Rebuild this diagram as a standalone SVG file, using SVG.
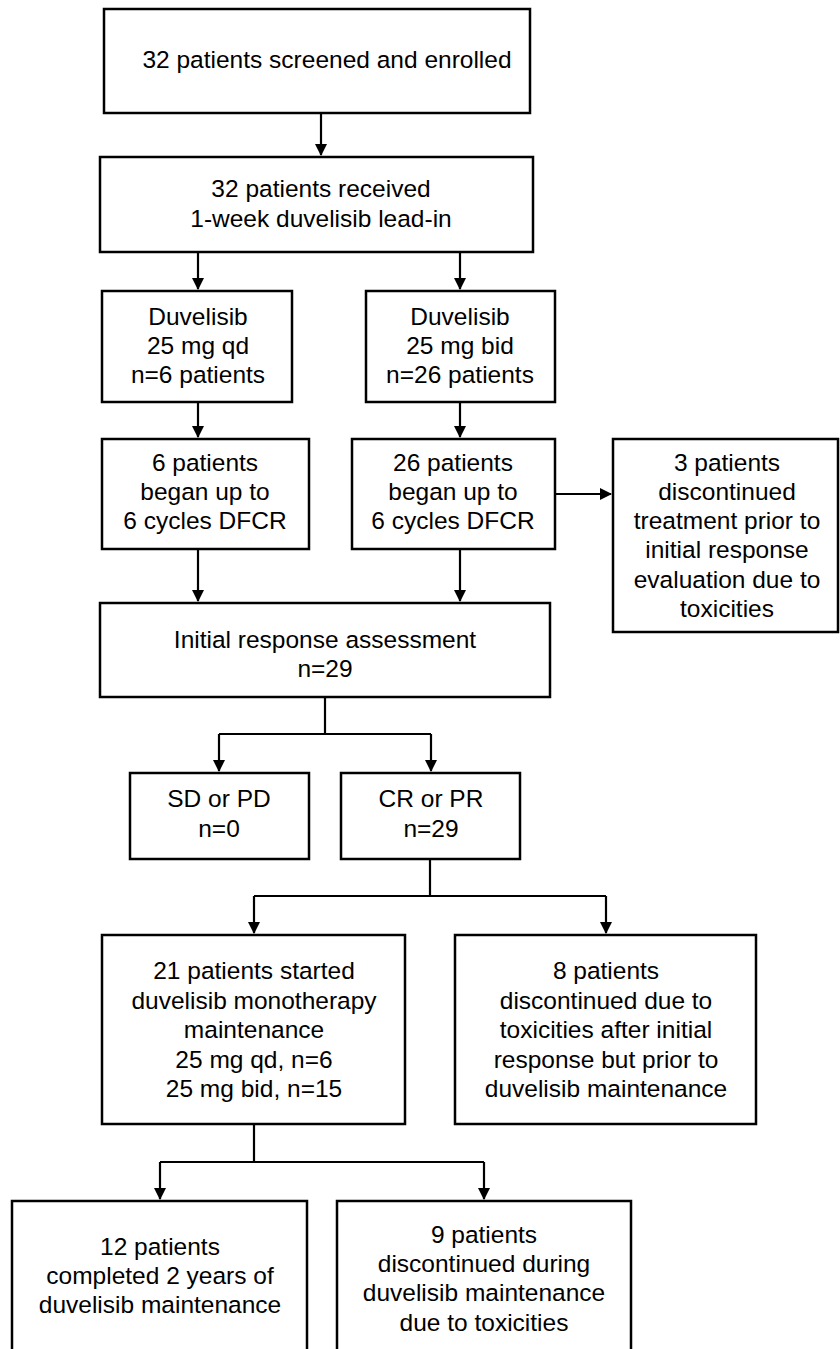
<svg xmlns="http://www.w3.org/2000/svg" width="840" height="1349" viewBox="0 0 840 1349">
<style>
.b{fill:#fff;stroke:#000;stroke-width:2.5}
.c{fill:none;stroke:#000;stroke-width:2.2}
text{font-family:"Liberation Sans",Arial,sans-serif;font-size:24.5px;fill:#000;text-anchor:middle}
</style>
<defs>
<marker id="ah" markerUnits="userSpaceOnUse" markerWidth="12" markerHeight="12" viewBox="0 0 12 12" refX="11" refY="6" orient="auto">
<path d="M0,0 L12,6 L0,12 z" fill="#000"/>
</marker>
</defs>
<g id="connectors">
<path class="c" d="M321,113 V155" marker-end="url(#ah)"/>
<path class="c" d="M198,252 V289" marker-end="url(#ah)"/>
<path class="c" d="M460,252 V289" marker-end="url(#ah)"/>
<path class="c" d="M198,402 V437" marker-end="url(#ah)"/>
<path class="c" d="M460,402 V437" marker-end="url(#ah)"/>
<path class="c" d="M555,494 H611" marker-end="url(#ah)"/>
<path class="c" d="M198,549 V601" marker-end="url(#ah)"/>
<path class="c" d="M460,549 V601" marker-end="url(#ah)"/>
<path class="c" d="M325,697 V734 M219,734 H431"/>
<path class="c" d="M219,734 V771" marker-end="url(#ah)"/>
<path class="c" d="M431,734 V771" marker-end="url(#ah)"/>
<path class="c" d="M430,859 V896 M254,896 H606"/>
<path class="c" d="M254,896 V933" marker-end="url(#ah)"/>
<path class="c" d="M606,896 V933" marker-end="url(#ah)"/>
<path class="c" d="M254,1124 V1162 M160,1162 H484"/>
<path class="c" d="M160,1162 V1199" marker-end="url(#ah)"/>
<path class="c" d="M484,1162 V1199" marker-end="url(#ah)"/>
</g>
<g id="n1"><rect class="b" x="104" y="9" width="426" height="104"/><text x="327" y="68">32 patients screened and enrolled</text></g>
<g id="n2"><rect class="b" x="100" y="157" width="433" height="95"/><text x="321" y="197">32 patients received</text><text x="321" y="227">1-week duvelisib lead-in</text></g>
<g id="n3"><rect class="b" x="102" y="291" width="190" height="111"/><text x="198" y="325">Duvelisib</text><text x="198" y="354">25 mg qd</text><text x="198" y="383">n=6 patients</text></g>
<g id="n4"><rect class="b" x="366" y="291" width="189" height="111"/><text x="460" y="325">Duvelisib</text><text x="460" y="354">25 mg bid</text><text x="460" y="383">n=26 patients</text></g>
<g id="n5"><rect class="b" x="102" y="439" width="207" height="110"/><text x="205" y="471">6 patients</text><text x="205" y="500">began up to</text><text x="205" y="529">6 cycles DFCR</text></g>
<g id="n6"><rect class="b" x="352" y="439" width="203" height="110"/><text x="453" y="471">26 patients</text><text x="453" y="500">began up to</text><text x="453" y="529">6 cycles DFCR</text></g>
<g id="n7"><rect class="b" x="613" y="439" width="225" height="193"/><text x="727" y="471">3 patients</text><text x="727" y="500">discontinued</text><text x="727" y="529">treatment prior to</text><text x="727" y="558">initial response</text><text x="727" y="588">evaluation due to</text><text x="727" y="617">toxicities</text></g>
<g id="n8"><rect class="b" x="100" y="603" width="450" height="94"/><text x="325" y="648">Initial response assessment</text><text x="325" y="677">n=29</text></g>
<g id="n9"><rect class="b" x="130" y="773" width="179" height="86"/><text x="219" y="807">SD or PD</text><text x="219" y="837">n=0</text></g>
<g id="n10"><rect class="b" x="341" y="773" width="179" height="86"/><text x="431" y="807">CR or PR</text><text x="431" y="837">n=29</text></g>
<g id="n11"><rect class="b" x="102" y="935" width="303" height="189"/><text x="254" y="979">21 patients started</text><text x="254" y="1009">duvelisib monotherapy</text><text x="254" y="1038">maintenance</text><text x="254" y="1068">25 mg qd, n=6</text><text x="254" y="1097">25 mg bid, n=15</text></g>
<g id="n12"><rect class="b" x="455" y="935" width="301" height="189"/><text x="606" y="979">8 patients</text><text x="606" y="1009">discontinued due to</text><text x="606" y="1038">toxicities after initial</text><text x="606" y="1068">response but prior to</text><text x="606" y="1097">duvelisib maintenance</text></g>
<g id="n13"><rect class="b" x="12" y="1201" width="295" height="170"/><text x="160" y="1255">12 patients</text><text x="160" y="1284">completed 2 years of</text><text x="160" y="1313">duvelisib maintenance</text></g>
<g id="n14"><rect class="b" x="337" y="1201" width="294" height="170"/><text x="484" y="1243">9 patients</text><text x="484" y="1272">discontinued during</text><text x="484" y="1301">duvelisib maintenance</text><text x="484" y="1331">due to toxicities</text></g>
</svg>
